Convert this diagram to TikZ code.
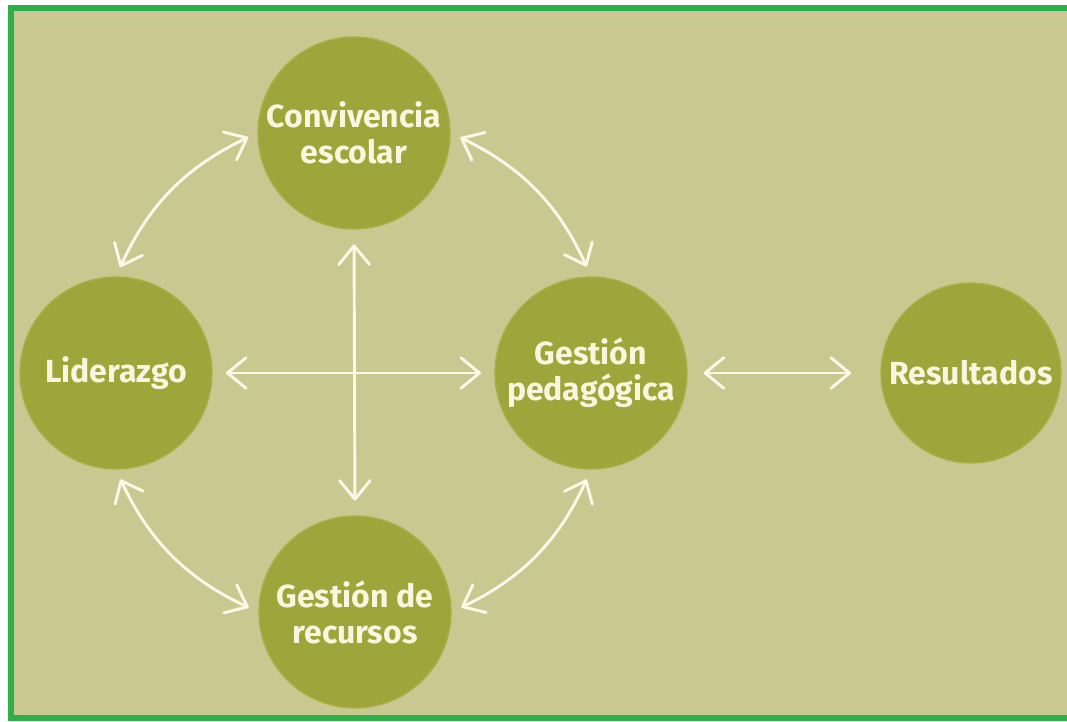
\documentclass[tikz,border=0pt]{standalone}
\usepackage{fontspec}
\setmainfont{Fira Sans}
\usetikzlibrary{arrows.meta}
\definecolor{bgc}{HTML}{C9C891}
\definecolor{discc}{HTML}{9EA53A}
\definecolor{rimc}{HTML}{AAB048}
\definecolor{inkc}{HTML}{F8F6DE}
\definecolor{arrowc}{HTML}{FAF8E6}
\definecolor{framec}{HTML}{2EAF4A}
\definecolor{pinkc}{HTML}{D4C497}
\begin{document}
\begin{tikzpicture}[x=0.75pt,y=0.75pt,
  disc/.style={circle, fill=discc, draw=rimc, line width=1pt, minimum size=144pt,
    inner sep=0pt, align=center, text=inkc, font=\bfseries\fontsize{24}{27}\selectfont},
  link/.style={draw=arrowc, line width=2.2pt,
    {Straight Barb[length=14pt,width=23pt,round]}-{Straight Barb[length=14pt,width=23pt,round]}},
  gap/.style={shorten <=#1, shorten >=#1}]
\useasboundingbox (0,0) rectangle (1067,721);
\fill[white] (0,0) rectangle (1067,721);
\fill[bgc] (11,3) rectangle (1067,713);
\draw[pinkc, line width=2pt] (18,3) -- (18,706) -- (1067,706);
\draw[pinkc, line width=1.5pt, opacity=0.6] (33,3) -- (33,691) -- (1067,691);
\draw[framec, line width=5pt] (1067,713) -- (11,713) -- (11,3) -- (1067,3);
\fill[bgc] (1058,6) rectangle (1067,710);
\draw[pinkc, line width=2pt] (1058,706) -- (1067,706);
\draw[pinkc, line width=1.5pt, opacity=0.6] (1058,691) -- (1067,691);

\node[disc] (conv) at (354,588) {Convivencia\\escolar};
\node[disc] (lid) at (116,348) {Liderazgo};
\node[disc] (ges) at (591,348) {Gestión\\pedagógica};
\node[disc, minimum size=135pt] (res) at (971,348) {Resultados};
\node[disc] (rec) at (355,109) {Gestión de\\recursos};

\draw[link, gap=7.5pt] (lid.north) to[bend left=20] (conv.west);
\draw[link, gap=8pt] (conv.east) to[bend left=20] (ges.north);
\draw[link, gap=8pt] (lid.south) to[bend right=20] (rec.west);
\draw[link, gap=8pt] (rec.east) to[bend right=20] (ges.south);
\draw[link, gap=10pt] (lid.east) -- (ges.west);
\draw[link, gap=11pt] (conv.south) -- (rec.north);
\draw[link, shorten <=12pt, shorten >=22pt] (ges.east) -- (res.west);
\end{tikzpicture}
\end{document}
